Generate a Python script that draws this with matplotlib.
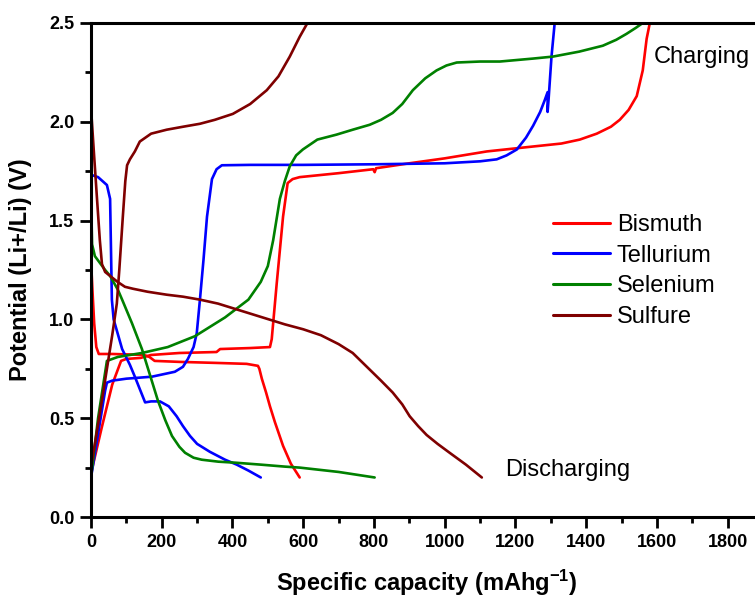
import matplotlib
matplotlib.use("Agg")
import matplotlib.pyplot as plt
from matplotlib.ticker import MultipleLocator, FixedLocator

plt.rcParams['font.family'] = ['Liberation Sans', 'DejaVu Sans']
plt.rcParams['mathtext.fontset'] = 'custom'
plt.rcParams['mathtext.rm'] = 'Liberation Sans:bold'
plt.rcParams['mathtext.default'] = 'rm'

# ---------------- data ----------------
series_names = ["Bismuth", "Tellurium", "Selenium", "Sulfure"]
series_colors = ["#ff0000", "#0000ff", "#008000", "#7f0000"]

bi_dis_x = [0, 4, 9, 15, 22, 60, 120, 150, 165, 180, 250, 350, 440, 472, 476, 483, 495, 506, 520, 543, 565, 590]
bi_dis_y = [1.30, 1.15, 0.98, 0.86, 0.825, 0.825, 0.822, 0.82, 0.81, 0.79, 0.785, 0.78, 0.775, 0.765, 0.75, 0.70, 0.63, 0.56, 0.48, 0.36, 0.27, 0.20]
bi_chg_x = [0, 30, 60, 85, 100, 140, 170, 250, 355, 365, 450, 506, 511, 525, 543, 556, 570, 590, 700, 798, 802, 806, 900, 1000, 1119, 1250, 1330, 1382, 1430, 1470, 1495, 1520, 1543, 1560, 1571, 1580]
bi_chg_y = [0.22, 0.45, 0.67, 0.79, 0.80, 0.805, 0.82, 0.83, 0.835, 0.85, 0.855, 0.86, 0.90, 1.18, 1.52, 1.69, 1.71, 1.72, 1.74, 1.76, 1.745, 1.765, 1.79, 1.815, 1.85, 1.875, 1.89, 1.91, 1.94, 1.975, 2.01, 2.06, 2.13, 2.26, 2.42, 2.50]

te_dis_x = [0, 3, 20, 45, 54, 59, 64, 88, 110, 124, 153, 170, 195, 220, 242, 260, 280, 300, 336, 379, 412, 445, 480]
te_dis_y = [1.74, 1.73, 1.72, 1.68, 1.61, 1.10, 1.00, 0.85, 0.77, 0.71, 0.58, 0.585, 0.585, 0.56, 0.51, 0.46, 0.41, 0.37, 0.33, 0.29, 0.265, 0.235, 0.20]
te_chg_x = [0, 20, 40, 45, 60, 100, 172, 237, 260, 274, 290, 299, 308, 318, 328, 342, 355, 370, 450, 600, 800, 1000, 1100, 1147, 1175, 1204, 1230, 1250, 1270, 1283, 1291, 1291, 1294, 1302, 1311]
te_chg_y = [0.20, 0.42, 0.64, 0.68, 0.69, 0.70, 0.71, 0.735, 0.76, 0.80, 0.86, 0.93, 1.10, 1.30, 1.52, 1.71, 1.76, 1.78, 1.782, 1.782, 1.785, 1.79, 1.80, 1.81, 1.83, 1.86, 1.92, 1.98, 2.05, 2.11, 2.15, 2.05, 2.12, 2.33, 2.50]

se_dis_x = [0, 1, 3, 11, 40, 54, 76, 88, 116, 144, 170, 189, 210, 229, 250, 266, 290, 313, 360, 407, 480, 548, 590, 700, 802]
se_dis_y = [1.78, 1.55, 1.38, 1.32, 1.25, 1.22, 1.15, 1.10, 0.98, 0.85, 0.70, 0.59, 0.49, 0.41, 0.355, 0.325, 0.30, 0.29, 0.28, 0.275, 0.265, 0.255, 0.25, 0.228, 0.20]
se_chg_x = [0, 20, 45, 76, 144, 217, 294, 379, 445, 480, 500, 515, 534, 548, 562, 580, 599, 640, 694, 740, 788, 820, 853, 880, 910, 945, 977, 1005, 1034, 1100, 1156, 1250, 1306, 1380, 1447, 1485, 1514, 1540, 1560]
se_chg_y = [0.20, 0.50, 0.79, 0.81, 0.83, 0.86, 0.915, 1.01, 1.10, 1.19, 1.27, 1.40, 1.61, 1.70, 1.775, 1.83, 1.86, 1.91, 1.935, 1.96, 1.985, 2.01, 2.045, 2.09, 2.16, 2.22, 2.26, 2.285, 2.30, 2.305, 2.305, 2.32, 2.33, 2.355, 2.385, 2.415, 2.445, 2.475, 2.50]

s_dis_x = [0, 8, 17, 25, 31, 40, 54, 75, 96, 119, 160, 214, 260, 308, 359, 449, 548, 600, 650, 700, 740, 780, 820, 853, 880, 901, 925, 949, 980, 1014, 1060, 1105]
s_dis_y = [2.07, 1.85, 1.61, 1.40, 1.28, 1.24, 1.22, 1.19, 1.165, 1.155, 1.14, 1.125, 1.115, 1.10, 1.08, 1.03, 0.975, 0.95, 0.92, 0.875, 0.83, 0.76, 0.69, 0.63, 0.57, 0.51, 0.46, 0.415, 0.37, 0.325, 0.265, 0.20]
s_chg_x = [0, 30, 60, 73, 80, 90, 97, 102, 110, 124, 138, 170, 214, 260, 308, 350, 401, 450, 497, 530, 562, 590, 612]
s_chg_y = [0.25, 0.58, 0.92, 1.08, 1.25, 1.52, 1.70, 1.78, 1.81, 1.85, 1.90, 1.94, 1.96, 1.975, 1.99, 2.01, 2.04, 2.09, 2.16, 2.23, 2.33, 2.43, 2.50]

x_ticks = [0, 200, 400, 600, 800, 1000, 1200, 1400, 1600, 1800]
y_ticks = [0.0, 0.5, 1.0, 1.5, 2.0, 2.5]
y_tick_labels = ["0.0", "0.5", "1.0", "1.5", "2.0", "2.5"]

# ---------------- figure ----------------
W, H = 755, 598
fig = plt.figure(figsize=(W / 100, H / 100), dpi=100)
ax_left, ax_right, ax_top, ax_bottom = 91, 763, 23, 517
ax = fig.add_axes([ax_left / W, 1 - ax_bottom / H, (ax_right - ax_left) / W, (ax_bottom - ax_top) / H])

curves = [
    (bi_dis_x, bi_dis_y, bi_chg_x, bi_chg_y),
    (te_dis_x, te_dis_y, te_chg_x, te_chg_y),
    (se_dis_x, se_dis_y, se_chg_x, se_chg_y),
    (s_dis_x, s_dis_y, s_chg_x, s_chg_y),
]
lw = 1.9
for name, col, (dx, dy, cx, cy) in zip(series_names, series_colors, curves):
    ax.plot(dx, dy, color=col, lw=lw, label=name, solid_joinstyle='round', solid_capstyle='round')
    ax.plot(cx, cy, color=col, lw=lw, solid_joinstyle='round', solid_capstyle='round')

ax.set_xlim(0, 1900)
ax.set_ylim(0, 2.5)
ax.xaxis.set_major_locator(FixedLocator(x_ticks))
ax.xaxis.set_minor_locator(MultipleLocator(100))
ax.set_yticks(y_ticks)
ax.set_yticklabels(y_tick_labels)
ax.yaxis.set_minor_locator(MultipleLocator(0.25))

for side in ['left', 'bottom', 'top']:
    ax.spines[side].set_linewidth(2.2)
ax.spines['right'].set_visible(False)
ax.tick_params(which='major', direction='out', length=8, width=2, labelsize=13, pad=4)
ax.tick_params(which='minor', direction='out', length=4.5, width=2)
ax.tick_params(top=False, right=False, which='both')
for lab in ax.get_xticklabels() + ax.get_yticklabels():
    lab.set_fontweight('bold')

ax.set_xlabel('Specific capacity (mAhg$^{-1}$)', fontsize=17, fontweight='bold', va='center')
ax.xaxis.set_label_coords(0.5, -(583 - ax_bottom) / (ax_bottom - ax_top))
ax.set_ylabel('Potential (Li+/Li) (V)', fontsize=17, fontweight='bold', va='center')
ax.yaxis.set_label_coords(-(ax_left - 21) / (ax_right - ax_left), 0.5)

leg = ax.legend(loc='upper left', bbox_to_anchor=(553 / W, 1 - 214 / H), bbox_transform=fig.transFigure,
                frameon=False, fontsize=17, handlelength=2.4, handletextpad=0.3,
                labelspacing=0.37, borderpad=0, borderaxespad=0)
for line in leg.get_lines():
    line.set_linewidth(2.2)

ax.text(1591, 2.33, 'Charging', fontsize=17, ha='left', va='center')
ax.text(1170, 0.24, 'Discharging', fontsize=17, ha='left', va='center')

fig.savefig('out.png', dpi=100)
